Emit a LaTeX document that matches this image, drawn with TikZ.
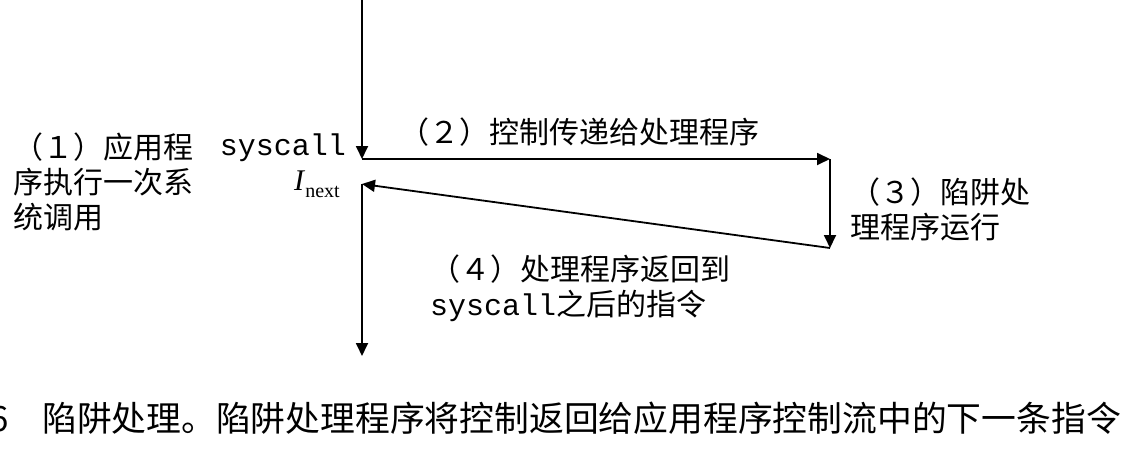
\documentclass[tikz,border=0pt]{standalone}
\usepackage{fontspec}
\setmainfont{Liberation Serif}
\setmonofont{Liberation Mono}
\newfontfamily\cjk{Noto Sans CJK SC}
\usetikzlibrary{arrows.meta}

\begin{document}
\begin{tikzpicture}
	[%
	x=1pt, y=-1pt,%
	flow/.style   ={line width=1.8pt, -{Triangle[length=13pt,width=12pt]}},%
	note/.style   ={font=\cjk\fontsize{30}{35}\selectfont, align=left, inner sep=0pt, anchor=north west},%
	code/.style   ={font=\ttfamily\fontsize{30}{30}\selectfont, inner sep=0pt, anchor=base east},%
	caption/.style={font=\cjk\fontsize{34.8}{35}\selectfont, inner sep=0pt},%
	]

	\newcommand\xapp{362}
	\newcommand\xhnd{830}

	\useasboundingbox (0,0) rectangle (1128,450);

	% points of the control flow
	\foreach \n/\x/\y in {top/\xapp/0, sys/\xapp/159, next/\xapp/184, bot/\xapp/356, %
												hndt/\xhnd/159, hndb/\xhnd/248}
		\coordinate (\n) at (\x,\y);

	% instruction names
	\node (sysname) at (346,155) [code] {syscall};
	\node (inext)   at (340,190) [anchor=base east, inner sep=0pt, font=\fontsize{30}{30}\selectfont]
		{\textit{I}\raisebox{-7pt}{\fontsize{20}{20}\selectfont next}};

	% steps
	\node (app)  at (13,133)  [note] {（１）应用程\\序执行一次系\\统调用};
	\node (pass) at (399,118) [note] {（２）控制传递给处理程序};
	\node (run)  at (850,178) [note] {（３）陷阱处\\理程序运行};
	\node (ret)  at (430,255) [note] {（４）处理程序返回到\\{\ttfamily syscall}之后的指令};

	% control flow
	\draw [flow] (top)  -- (sys);
	\draw [flow] (sys)  -- (hndt);
	\draw [flow] (hndt) -- (hndb);
	\draw [flow] (hndb) -- (next);
	\draw [flow] (next) -- (bot);

	% caption
	\node (capnum)  at (9,431)  [caption, anchor=base east] {6};
	\node (captext) at (42,431) [caption, anchor=base west] {陷阱处理。陷阱处理程序将控制返回给应用程序控制流中的下一条指令};

\end{tikzpicture}
\end{document}
